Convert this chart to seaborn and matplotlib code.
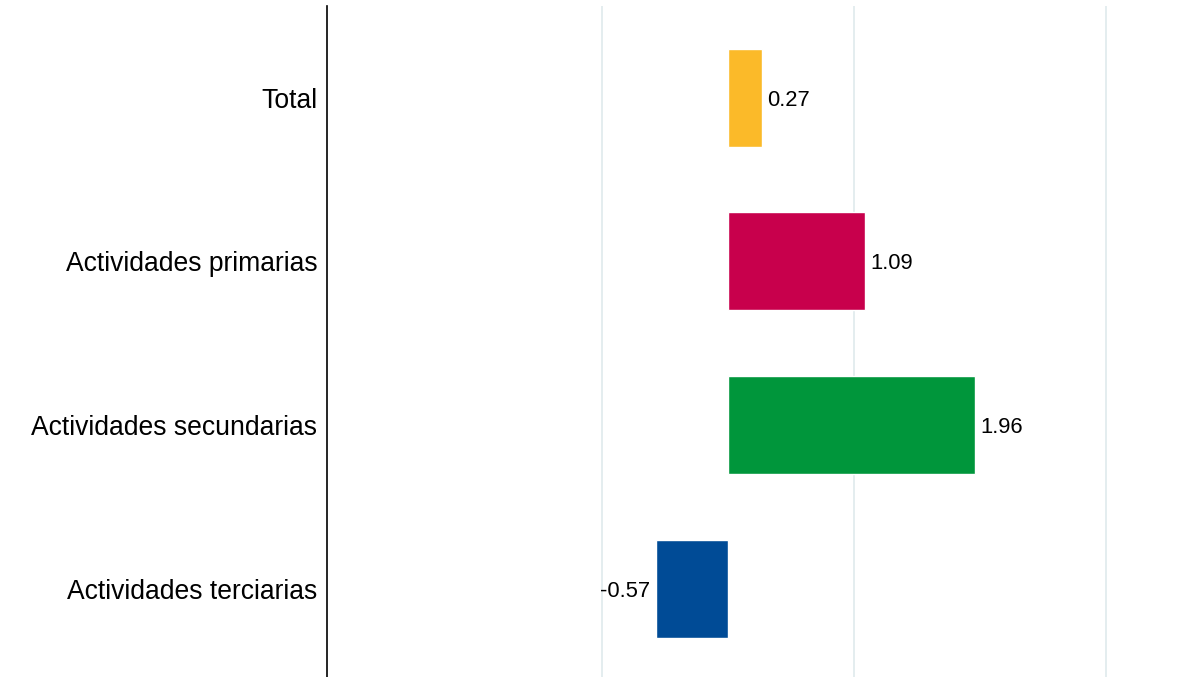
import matplotlib
matplotlib.use("Agg")
import matplotlib.pyplot as plt
import pandas as pd
import seaborn as sbn

# datos
categorias = ["Total", "Actividades primarias", "Actividades secundarias", "Actividades terciarias"]
valores = [0.27, 1.09, 1.96, -0.57]
colores = ["#FBBA29", "#C8004C", "#00963B", "#004B96"]

df = pd.DataFrame({"categoria": categorias, "valor": valores})

sbn.set_style("white")
plt.rcParams["font.family"] = ["Liberation Sans", "DejaVu Sans"]

fig = plt.figure(figsize=(11.93, 6.77), dpi=100)
ax = fig.add_axes([0.274, 0.0, 0.726, 0.991])

sbn.barplot(data=df, y="categoria", x="valor", hue="categoria", palette=colores,
            orient="h", width=0.6, legend=False, ax=ax, saturation=1)

# etiquetas de valor
for cont in ax.containers:
    etiquetas = ax.bar_label(cont, fmt="%.2f", padding=4, fontsize=15.8, color="black")
    for t in etiquetas:
        t.set_va("center_baseline")

ax.set_xlim(-3.18, 3.69)
ax.set_ylim(3.54, -0.56)
ax.set_xticks([-1, 1, 3])
ax.set_xticklabels([])
ax.tick_params(axis="x", length=0)
ax.tick_params(axis="y", length=0, labelsize=19.1, pad=7, labelcolor="black")
for t in ax.get_yticklabels():
    t.set_va("center_baseline")
ax.grid(axis="x", color="#E2ECEE", linewidth=1.3)
ax.set_axisbelow(True)
ax.set_xlabel("")
ax.set_ylabel("")

for s in ["top", "right", "bottom"]:
    ax.spines[s].set_visible(False)
ax.spines["left"].set_color("black")
ax.spines["left"].set_linewidth(1.2)

fig.savefig("out.png", dpi=100)
